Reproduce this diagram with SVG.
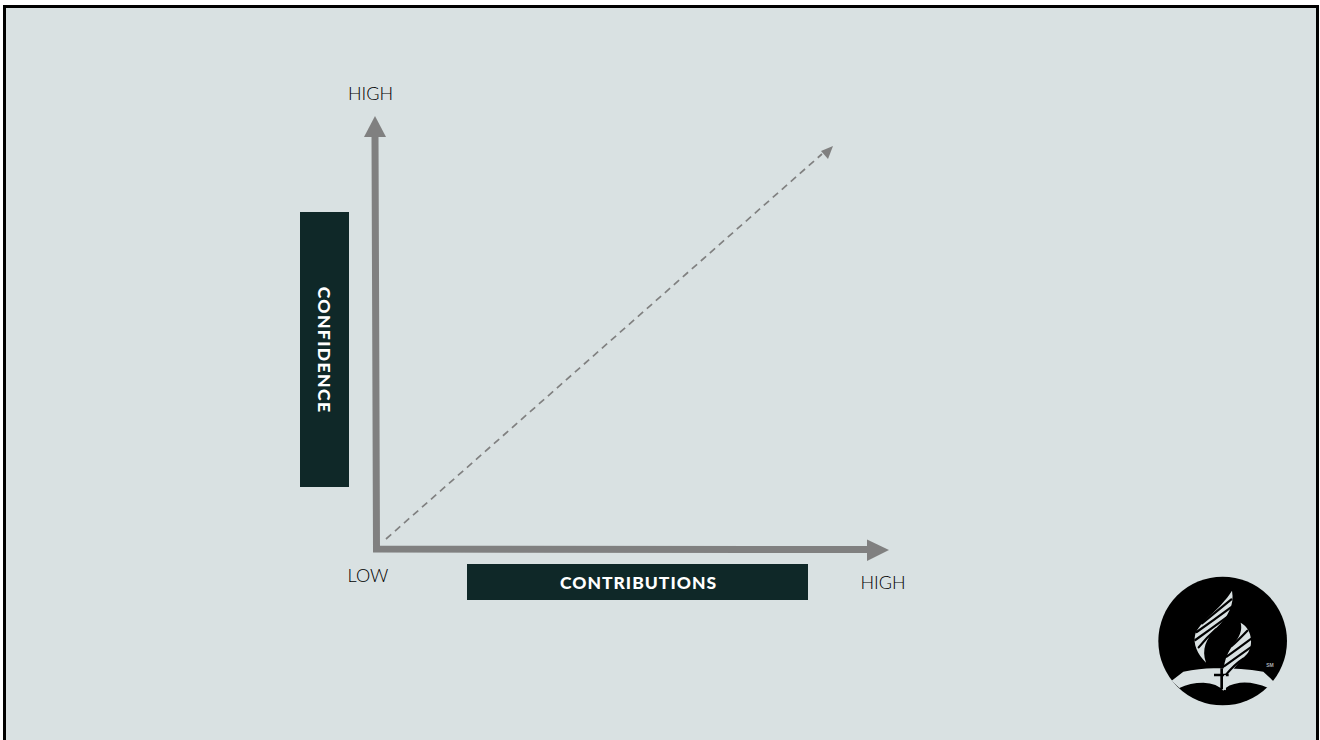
<svg xmlns="http://www.w3.org/2000/svg" width="1320" height="740" viewBox="0 0 1320 740">
<style>
.lbl{font-family:"Lato","Liberation Sans",sans-serif;font-size:18px;font-weight:300;fill:#000}
.bar{fill:#0f2828}
.head{font-family:"Lato","Liberation Sans",sans-serif;font-size:17.500px;font-weight:900;fill:#fff;letter-spacing:1px}
.axis{fill:none;stroke:#808080;stroke-width:7}
.tip{fill:#808080}
.fl{fill:#d9e1e2}
.st{fill:none;stroke:#000;stroke-width:6.500;stroke-linecap:round}
</style>
<rect width="1320" height="740" fill="#fff"/>
<rect x="4.500" y="6.500" width="1313" height="740" fill="#d9e1e2" stroke="#000" stroke-width="3"/>
<g id="connectors">
<path class="axis" d="M375 136L376.500 549L868 549.500"/>
<path class="tip" d="M375 116L386 137H364Z"/>
<path class="tip" d="M889 550L867 539.500V561Z"/>
<path d="M386 539L822 154" fill="none" stroke="#808080" stroke-width="1.700" stroke-dasharray="7 5"/>
<path class="tip" d="M833 146L821 151L828 159Z"/>
</g>
<g id="node-confidence">
<rect class="bar" x="300" y="212" width="49" height="275"/>
<text class="head" transform="translate(318 350) rotate(90)" text-anchor="middle" style="letter-spacing:1.400px">CONFIDENCE</text>
</g>
<g id="node-contributions">
<rect class="bar" x="467" y="564" width="341" height="36"/>
<text class="head" x="638.500" y="588.500" text-anchor="middle">CONTRIBUTIONS</text>
</g>
<g id="label-high-y"><text class="lbl" x="370.500" y="100" text-anchor="middle">HIGH</text></g>
<g id="label-low"><text class="lbl" x="368" y="582" text-anchor="middle">LOW</text></g>
<g id="label-high-x"><text class="lbl" x="883" y="589" text-anchor="middle">HIGH</text></g>
<g id="logo" transform="translate(1140 560) scale(.33333)">
<circle cx="248" cy="243" r="193" fill="#000"/>
<path class="fl" d="M95 362L130 335Q190 322 240 325Q300 325 370 335L405 368L385 384Q340 364 300 368Q262 373 250 392Q232 370 190 368Q150 368 118 384Z"/>
<path class="fl" d="M276 92C284 135 264 170 228 205C198 238 184 268 198 308C172 282 158 252 166 222C178 185 240 150 276 92Z"/>
<path class="fl" d="M302 188C334 205 342 250 324 278C302 305 264 330 256 392C248 350 248 315 262 285C275 250 312 230 302 188Z"/>
<g class="st">
<path d="M274 118Q225 158 186 190"/><path d="M276 140Q222 180 170 216"/><path d="M260 172Q215 205 166 240"/><path d="M228 208Q200 232 176 262"/>
<path d="M322 212Q295 240 275 258"/><path d="M334 236Q295 265 260 290"/><path d="M332 262Q295 288 254 318"/><path d="M310 296Q285 312 258 344"/>
</g>
<path d="M245 325V388M222 345H266" fill="none" stroke="#000" stroke-width="8"/>
<path d="M255 345V390" fill="none" stroke="#d9e1e2" stroke-width="5"/>
<text x="390" y="320" font-family="Liberation Sans, sans-serif" font-size="15" font-weight="700" fill="#aab1b2" text-anchor="middle">SM</text>
</g>
</svg>
